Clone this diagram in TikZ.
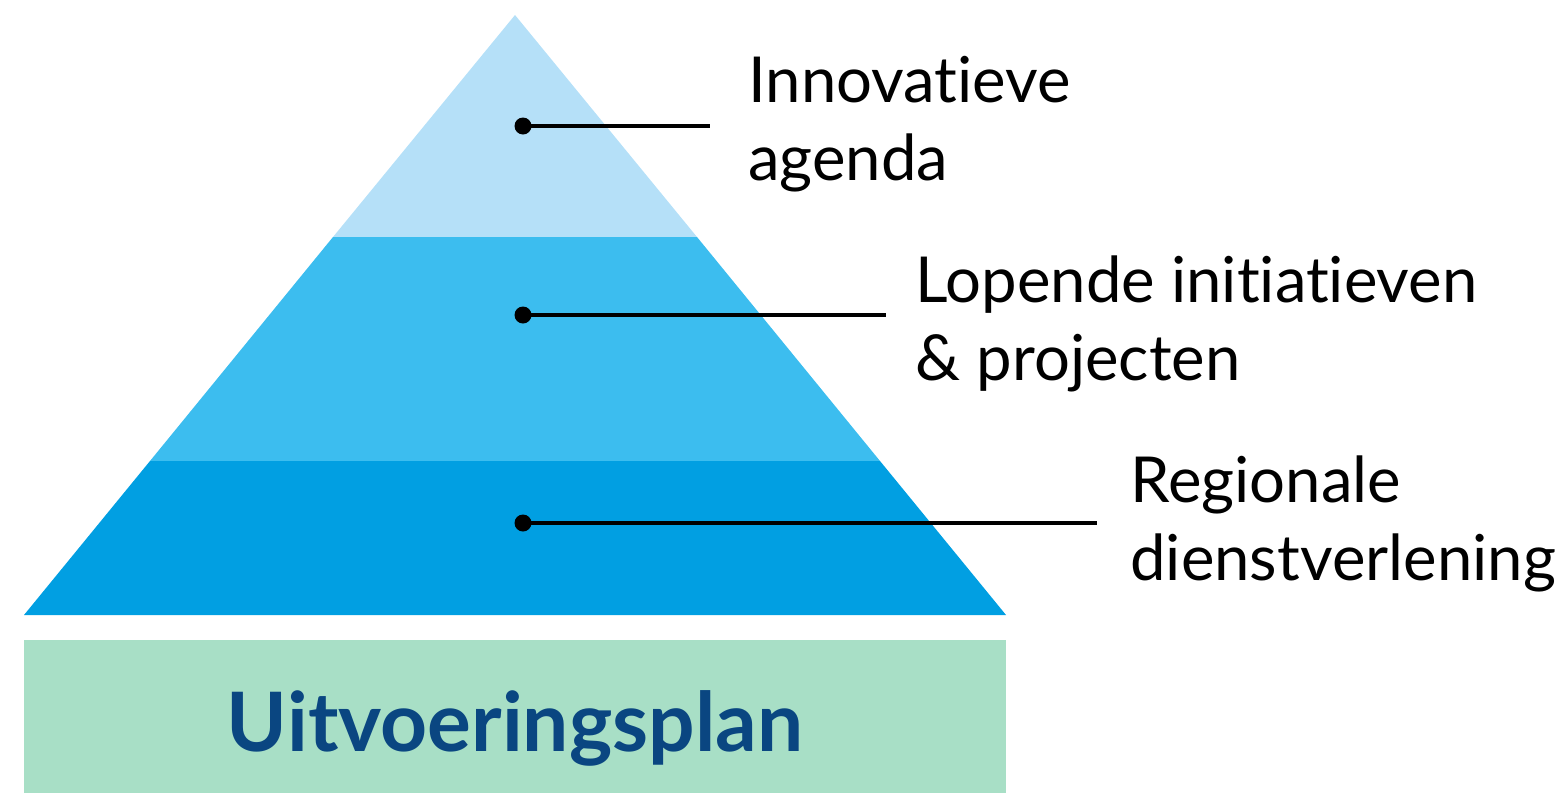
\documentclass[tikz,border=0pt]{standalone}
\usepackage{fontspec}
\setmainfont{Lato}[Ligatures=NoCommon]
\usetikzlibrary{positioning}
\definecolor{tipblue}{HTML}{B5E0F8}
\definecolor{midblue}{HTML}{3CBDEF}
\definecolor{baseblue}{HTML}{019FE2}
\definecolor{plangreen}{HTML}{A8DFC6}
\definecolor{plannavy}{HTML}{0A4681}

\begin{document}
\begin{tikzpicture}[x=0.5pt,y=-0.5pt,
	dot/.style={circle,fill=black,inner sep=0pt,minimum size=8.5pt},
	leader/.style={line width=2pt,black},
	layertext/.style={anchor=base west,align=left,inner sep=0pt,
		font=\fontsize{31.7pt}{39pt}\selectfont}]
	\useasboundingbox (0,0) rectangle (1562,793);

	% pyramid layers
	\fill [tipblue] (515,15) -- (333,237) -- (697,237) -- cycle;
	\fill [midblue] (333,237) -- (150,461) -- (880,461) -- (697,237) -- cycle;
	\fill [baseblue] (150,461) -- (24,615) -- (1006,615) -- (880,461) -- cycle;

	% base block
	\fill [plangreen] (24,640) rectangle (1006,793);
	\node [anchor=base, inner sep=0pt, text=plannavy,
		font=\fontsize{41pt}{48pt}\selectfont\bfseries] (plan) at (515,751) {Uitvoeringsplan};

	%\node [dot] at (515,15) {};
	\node [dot] (d1) at (523,126) {};
	\node [dot] (d2) at (523,315) {};
	\node [dot] (d3) at (523,523) {};
	\coordinate (e1) at (710,126);
	\coordinate (e2) at (886,315);
	\coordinate (e3) at (1097,523);
	\draw [leader] (d1.center) -- (e1);
	\draw [leader] (d2.center) -- (e2);
	\draw [leader] (d3.center) -- (e3);

	% labels: base anchor sits on the last line
	\node [layertext] (l1) at (748,180) {Innovatieve\\agenda};
	\node [layertext] (l2) at (915,380) {Lopende initiatieven\\\& projecten};
	\node [layertext] (l3) at (1130,580) {Regionale\\dienstverlening};
\end{tikzpicture}
\end{document}
